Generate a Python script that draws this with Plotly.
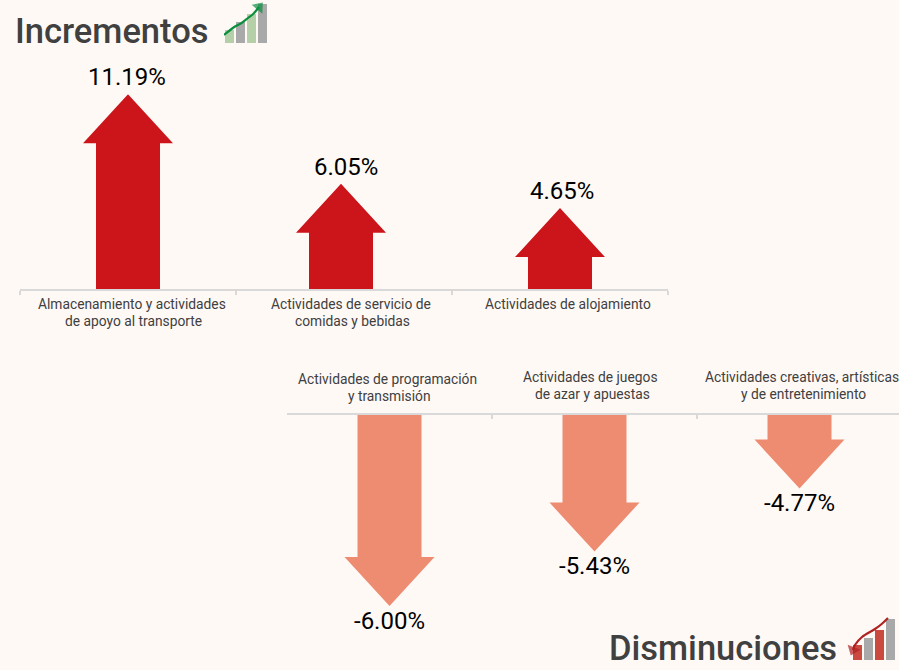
import plotly.graph_objects as go

W, H = 899, 670
BG = "#fff9f6"
GRID = "#d9d9d9"
FONT = "Roboto"

up_cats = [["Almacenamiento y actividades", "de apoyo al transporte"],
           ["Actividades de servicio de", "comidas y bebidas"],
           ["Actividades de alojamiento"]]
up_vals = [11.19, 6.05, 4.65]
up_labels = ["11.19%", "6.05%", "4.65%"]

down_cats = [["Actividades de programación", "y transmisión"],
             ["Actividades de juegos", "de azar y apuestas"],
             ["Actividades creativas, artísticas", "y de entretenimiento"]]
down_vals = [-6.00, -5.43, -4.77]
down_labels = ["-6.00%", "-5.43%", "-4.77%"]

icon_up_bars = [13, 21, 29, 39]
icon_up_colors = ["#b5cfa8", "#a9a9a9", "#b5cfa8", "#a9a9a9"]
icon_up_arrow_x = [-0.5, 0.5, 1.1, 1.68, 2.15, 2.68]
icon_up_arrow_y = [8, 16.5, 20, 25, 29, 36]

icon_down_bars = [15, 22, 30, 41]
icon_down_colors = ["#cb4a3f", "#a9a9a9", "#cb4a3f", "#a9a9a9"]
icon_down_arrow_x = [2.77, 2.2, 1.59, 0.41, -0.23, -0.41]
icon_down_arrow_y = [42, 36, 31, 23, 15, 10]

fig = go.Figure()


def ydom(top, bottom):
    return [1 - bottom / H, 1 - top / H]


def arrow(cx, val, base, px_per_x, px_per_y, color, xaxis, yaxis):
    """Polygon for an arrow from the base to the value, in data coordinates."""
    s = 1 if val > base else -1
    hw = 45 / px_per_x
    sw = 32 / px_per_x
    neck = val - s * 49 / px_per_y
    xs = [cx - sw, cx - sw, cx - hw, cx, cx + hw, cx + sw, cx + sw, cx - sw]
    ys = [base, neck, neck, val, neck, neck, base, base]
    fig.add_trace(go.Scatter(x=xs, y=ys, fill="toself", fillcolor=color, mode="lines",
                             line=dict(width=0, color=color), hoverinfo="skip",
                             showlegend=False, xaxis=xaxis, yaxis=yaxis))


UP_PX_X, DOWN_PX_X = 216, 205
UP_TOP, UP_BASE_PX = 94.3, 289
DOWN_BASE_PX, DOWN_END_PX = 415, 606
UP_PX_Y = (UP_BASE_PX - UP_TOP) / 11.19
DOWN_BASE = -4.0
DOWN_PX_Y = (DOWN_END_PX - DOWN_BASE_PX) / 2.0
up_nudge = [0, -3 / UP_PX_X, 0]

for i, v in enumerate(up_vals):
    arrow(i + up_nudge[i], v, 0, UP_PX_X, UP_PX_Y, "#cb151a", "x", "y")
for i, v in enumerate(down_vals):
    arrow(i, v, DOWN_BASE, DOWN_PX_X, DOWN_PX_Y, "#ee8c72", "x2", "y2")


def icon(bars, colors, ax, ay, col, xa, ya):
    fig.add_trace(go.Bar(x=[0, 1, 2, 3], y=bars, marker=dict(color=colors, line_width=0),
                         width=0.82, xaxis=xa, yaxis=ya, showlegend=False, hoverinfo="skip"))
    n = len(ax) - 1
    fig.add_trace(go.Scatter(x=ax, y=ay, mode="lines+markers", cliponaxis=False,
                             line=dict(color=col, width=2.2, shape="spline"),
                             marker=dict(symbol=["circle"] * n + ["triangle-up"], size=[0] * n + [12],
                                         color=col, angleref="previous", line_width=0),
                             xaxis=xa, yaxis=ya, showlegend=False, hoverinfo="skip"))


icon(icon_up_bars, icon_up_colors, icon_up_arrow_x, icon_up_arrow_y, "#0b8f3e", "x3", "y3")
icon(icon_down_bars, icon_down_colors, icon_down_arrow_x, icon_down_arrow_y, "#ae2222", "x4", "y4")

ann = []
up_val_dx = [-0.5, 2.5, 2.5]
down_val_dx = [0, -0.5, -0.5]
up_cat_dx = [[4, 5.5], [7, 8.5], [7.5]]
down_cat_dx = [[-2, -0.5], [-4, -2.5], [2, 3.5]]
up_line_dy = [[-15, -31.6], [-15, -31.6], [-15]]
down_line_dy = [[35.7, 19], [38, 21.3], [38, 21.3]]
CAT = dict(family=FONT, size=13.8, color="#404040")
VAL = dict(family=FONT, size=24, color="#000000")
TTL = dict(family=FONT, size=34.5, color="#404040", weight=500)

for i, (v, t) in enumerate(zip(up_vals, up_labels)):
    ann.append(dict(x=i, y=v, xref="x", yref="y", text=t, showarrow=False, xanchor="center", yanchor="bottom",
                    xshift=up_val_dx[i] - 0.5, yshift=1, font=VAL))
for i, lines in enumerate(up_cats):
    for line, dx, dy in zip(lines, up_cat_dx[i], up_line_dy[i]):
        ann.append(dict(x=i, y=0, xref="x", yref="y", text=line, showarrow=False, xanchor="center", yanchor="middle",
                        xshift=dx, yshift=dy, font=CAT))
for i, (v, t) in enumerate(zip(down_vals, down_labels)):
    ann.append(dict(x=i, y=v, xref="x2", yref="y2", text=t, showarrow=False, xanchor="center", yanchor="top",
                    xshift=down_val_dx[i], yshift=1.5, font=VAL))
for i, lines in enumerate(down_cats):
    for line, dx, dy in zip(lines, down_cat_dx[i], down_line_dy[i]):
        ann.append(dict(x=i, y=DOWN_BASE, xref="x2", yref="y2", text=line, showarrow=False, xanchor="center",
                        yanchor="middle", xshift=dx, yshift=dy, font=CAT))
ann.append(dict(x=13 / W, y=1 - 31 / H, xref="paper", yref="paper", text="Incrementos", showarrow=False,
                xanchor="left", yanchor="middle", font=TTL))
ann.append(dict(x=607 / W, y=1 - 648 / H, xref="paper", yref="paper", text="Disminuciones", showarrow=False,
                xanchor="left", yanchor="middle", font=TTL))

hidden = dict(visible=False, fixedrange=True)
fig.update_layout(
    width=W, height=H, margin=dict(l=0, r=0, t=0, b=0, pad=0, autoexpand=False),
    paper_bgcolor=BG, plot_bgcolor="rgba(0,0,0,0)", showlegend=False, annotations=ann,
    xaxis=dict(domain=[20 / W, 668 / W], range=[-0.5, 2.5], tickvals=[-0.5, 0.5, 1.5, 2.5], ticktext=["", "", "", ""],
               showline=True, linecolor=GRID, linewidth=2, ticks="outside", ticklen=4, tickwidth=2, tickcolor=GRID,
               showgrid=False, zeroline=False, anchor="y", side="bottom", fixedrange=True),
    yaxis=dict(domain=ydom(UP_TOP, UP_BASE_PX), range=[0, 11.19], visible=False, anchor="x", fixedrange=True),
    xaxis2=dict(domain=[287 / W, 1], range=[-0.5, -0.5 + (899 - 287) / DOWN_PX_X], tickvals=[-0.5, 0.5, 1.5],
                ticktext=["", "", ""], showline=True, linecolor=GRID, linewidth=2, ticks="inside", ticklen=4,
                tickwidth=2, tickcolor=GRID, showgrid=False, zeroline=False, anchor="y2", side="top", fixedrange=True),
    yaxis2=dict(domain=ydom(DOWN_BASE_PX, DOWN_END_PX), range=[-6.0, DOWN_BASE], visible=False, anchor="x2", fixedrange=True),
    xaxis3=dict(domain=[224 / W, 268 / W], range=[-0.5, 3.5], anchor="y3", **hidden),
    yaxis3=dict(domain=ydom(0, 43), range=[0, 43], anchor="x3", **hidden),
    xaxis4=dict(domain=[852 / W, 896 / W], range=[-0.5, 3.5], anchor="y4", **hidden),
    yaxis4=dict(domain=ydom(617, 660), range=[0, 43], anchor="x4", **hidden),
)
fig.write_html("out.html", config={"displayModeBar": False},
               post_script="document.body.style.margin='0';document.body.style.background='%s';" % BG)
